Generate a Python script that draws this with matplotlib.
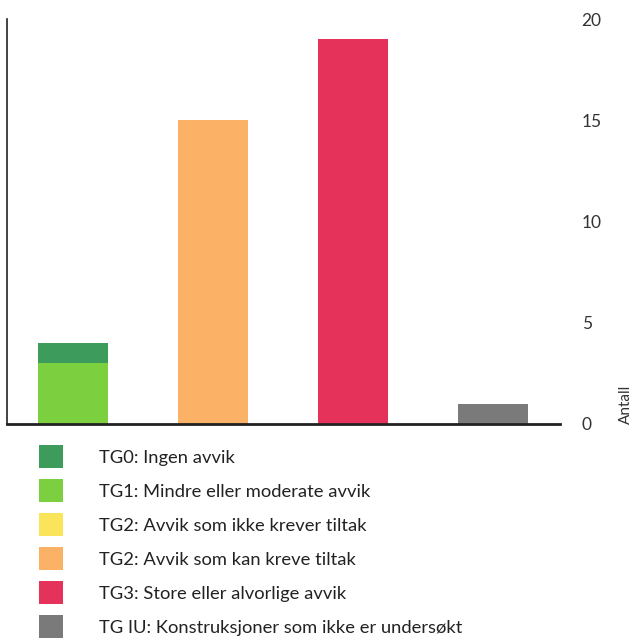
import matplotlib.pyplot as plt
from matplotlib.patches import Patch

plt.rcParams['font.family'] = ['Lato', 'DejaVu Sans']

# one bar per condition grade group
positions = [0, 1, 2, 3]

labels = [
    'TG0: Ingen avvik',
    'TG1: Mindre eller moderate avvik',
    'TG2: Avvik som ikke krever tiltak',
    'TG2: Avvik som kan kreve tiltak',
    'TG3: Store eller alvorlige avvik',
    'TG IU: Konstruksjoner som ikke er undersøkt',
]
colors = ['#3d9b5c', '#7ccf3f', '#fae55a', '#fbb266', '#e4325a', '#7a7a7a']

tg0 = [1, 0, 0, 0]
tg1 = [3, 0, 0, 0]
tg2_ikke = [0, 0, 0, 0]
tg2_kan = [0, 15, 0, 0]
tg3 = [0, 0, 19, 0]
tg_iu = [0, 0, 0, 1]

yticks = [0, 5, 10, 15, 20]

fig = plt.figure(figsize=(6.35, 6.39), dpi=100)
ax = fig.add_axes([0.011, 0.3365, 0.871, 0.6335])

# stacking order from the bottom: TG1 under TG0, then the rest
stack = [(tg1, colors[1]), (tg0, colors[0]), (tg2_ikke, colors[2]),
         (tg2_kan, colors[3]), (tg3, colors[4]), (tg_iu, colors[5])]
bottom = [0, 0, 0, 0]
for vals, c in stack:
    ax.bar(positions, vals, width=0.5, bottom=bottom, color=c, linewidth=0)
    bottom = [b + v for b, v in zip(bottom, vals)]

ax.set_xlim(-0.47, 3.48)
ax.set_ylim(0, 20)
ax.set_xticks([])
ax.set_yticks(yticks)
ax.tick_params(axis='y', left=False, right=False, labelleft=False,
               labelright=True, pad=12, labelsize=12.5, labelcolor='#333333')

for s in ['top', 'right']:
    ax.spines[s].set_visible(False)
ax.spines['left'].set_linewidth(1.2)
ax.spines['bottom'].set_linewidth(2)
ax.spines['left'].set_color('#222222')
ax.spines['bottom'].set_color('#222222')

ax.yaxis.set_label_position('right')
ax.set_ylabel('Antall', fontsize=11, color='#333333', rotation=90, loc='bottom')
ax.yaxis.set_label_coords(1.106, 0.0)

handles = [Patch(facecolor=c, edgecolor='none') for c in colors]
leg = fig.legend(handles, labels, loc='upper left', bbox_to_anchor=(0.0614, 0.303),
                 frameon=False, fontsize=13.2, handlelength=1.3, handleheight=1.55,
                 handletextpad=2.0, labelspacing=0.6, borderaxespad=0, borderpad=0)
for t in leg.get_texts():
    t.set_color('#222222')

fig.savefig('out.png', dpi=100)
